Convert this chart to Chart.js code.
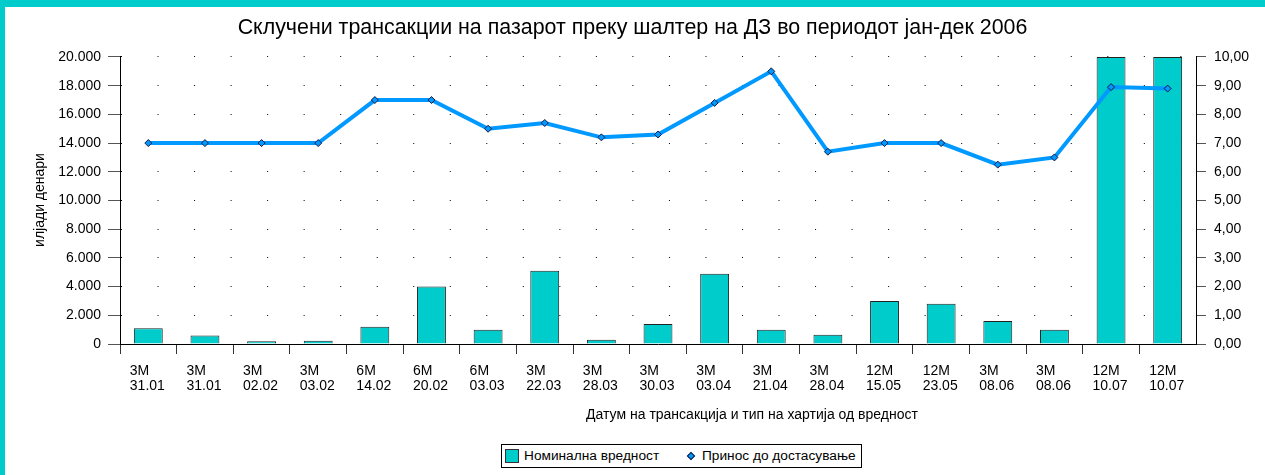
<!DOCTYPE html>
<html lang="mk">
<head>
    <meta charset="UTF-8">
    <title>Склучени трансакции на пазарот преку шалтер на ДЗ</title>
    <style>
        body { margin: 0; background: #fff; font-family: "Liberation Sans", Arial, sans-serif; }
        #frame { position: absolute; left: 0; top: 0; width: 1265px; height: 475px; box-sizing: border-box;
                 border-top: 7px solid #00cccc; border-left: 5px solid #00cccc; }
        #chart-container { position: absolute; left: 0; top: 0; width: 1265px; height: 475px; }
        #legend { position: absolute; left: 501px; top: 444px; width: 361px; height: 24px; box-sizing: border-box;
                  border: 1px solid #000; background: #fff; font-size: 13.7px; color: #000; }
        #legend .sq { position: absolute; left: 3px; top: 4px; width: 14px; height: 14px; box-sizing: border-box;
                      background: #00cccc; border: 1px solid #333; }
        #legend .dia { position: absolute; left: 186px; top: 8px; width: 6px; height: 6px; box-sizing: border-box;
                       background: #0099ff; border: 1px solid #1a1a40; transform: rotate(45deg); }
        #legend .txt { position: absolute; top: 0; line-height: 22px; white-space: nowrap; }
    </style>
</head>
<body>
    <div id="frame"></div>
    <div id="chart-container">
        <canvas id="resultChart"></canvas>
    </div>
    <div id="legend">
        <span class="sq"></span><span class="txt" style="left:22px">Номинална вредност</span>
        <span class="dia"></span><span class="txt" style="left:200px">Принос до достасување</span>
    </div>

    <script src="https://cdn.jsdelivr.net/npm/chart.js"></script>
    <script>
        // data
        const categories = [
            ['3M', '31.01'], ['3M', '31.01'], ['3M', '02.02'], ['3M', '03.02'], ['6M', '14.02'],
            ['6M', '20.02'], ['6M', '03.03'], ['3M', '22.03'], ['3M', '28.03'], ['3M', '30.03'],
            ['3M', '03.04'], ['3M', '21.04'], ['3M', '28.04'], ['12M', '15.05'], ['12M', '23.05'],
            ['3M', '08.06'], ['3M', '08.06'], ['12M', '10.07'], ['12M', '10.07']
        ];
        const nominalValues = [1100, 600, 200, 220, 1200, 4000, 1000, 5100, 300, 1400,
                               4900, 1000, 650, 3000, 2800, 1600, 1000, 20000, 20000];
        const yieldValues = [7.0, 7.0, 7.0, 7.0, 8.5, 8.5, 7.5, 7.7, 7.2, 7.3,
                             8.4, 9.5, 6.7, 7.0, 7.0, 6.25, 6.5, 8.95, 8.9];
        const leftTickLabels = ['0', '2.000', '4.000', '6.000', '8.000', '10.000',
                                '12.000', '14.000', '16.000', '18.000', '20.000'];
        const rightTickLabels = ['0,00', '1,00', '2,00', '3,00', '4,00', '5,00',
                                 '6,00', '7,00', '8,00', '9,00', '10,00'];

        const chartTitle = 'Склучени трансакции на пазарот преку шалтер на ДЗ во периодот јан-дек 2006';
        const xTitle = 'Датум на трансакција и тип на хартија од вредност';
        const yTitle = 'илјади денари';

        Chart.defaults.font.family = '"Liberation Sans", Arial, sans-serif';
        Chart.defaults.color = '#000';

        // axis titles sit off-centre in the original, so draw them by hand
        const axisTitles = {
            id: 'axisTitles',
            afterDraw(chart) {
                const ctx = chart.ctx;
                ctx.save();
                ctx.fillStyle = '#000';
                ctx.font = '14px "Liberation Sans", Arial, sans-serif';
                ctx.textAlign = 'center';
                ctx.textBaseline = 'middle';
                ctx.fillText(xTitle, 752, 415);
                ctx.translate(40, 200);
                ctx.rotate(-Math.PI / 2);
                ctx.fillText(yTitle, 0, 0);
                ctx.restore();
            }
        };

        const ctx = document.getElementById('resultChart').getContext('2d');
        new Chart(ctx, {
            data: {
                labels: categories,
                datasets: [{
                    type: 'line',
                    label: 'Принос до достасување',
                    data: yieldValues,
                    yAxisID: 'y1',
                    order: 0,
                    borderColor: '#0099ff',
                    borderWidth: 4,
                    tension: 0,
                    pointStyle: 'rectRot',
                    pointRadius: 3.5,
                    pointBackgroundColor: '#0099ff',
                    pointBorderColor: '#1a1a40',
                    pointBorderWidth: 1
                }, {
                    type: 'bar',
                    label: 'Номинална вредност',
                    data: nominalValues,
                    yAxisID: 'y',
                    order: 1,
                    backgroundColor: '#00cccc',
                    borderColor: '#222',
                    borderWidth: 1,
                    categoryPercentage: 1,
                    barPercentage: 0.51
                }]
            },
            options: {
                responsive: true,
                maintainAspectRatio: false,
                animation: false,
                layout: { padding: 0 },
                plugins: {
                    legend: { display: false },
                    tooltip: { enabled: false },
                    title: {
                        display: true,
                        text: chartTitle,
                        color: '#000',
                        font: { size: 21.4, weight: 'normal', lineHeight: 1.2 },
                        padding: { top: 15.2, bottom: 16.1 }
                    }
                },
                scales: {
                    x: {
                        type: 'category',
                        offset: true,
                        afterFit: s => { s.height = 131; },
                        grid: {
                            offset: true,
                            drawOnChartArea: false,
                            tickLength: 10,
                            tickColor: c => c.index === undefined ? 'rgba(0,0,0,0)' : '#333'
                        },
                        border: { color: '#000', width: 1 },
                        ticks: {
                            align: 'start',
                            labelOffset: -18.5,
                            padding: 10,
                            maxRotation: 0,
                            autoSkip: false,
                            font: { size: 14, lineHeight: 1.07 }
                        }
                    },
                    y: {
                        position: 'left',
                        min: 0,
                        max: 20000,
                        afterFit: s => { s.width = 120; },
                        grid: {
                            color: '#000',
                            lineWidth: 1,
                            tickLength: 12,
                            tickColor: '#555',
                            tickBorderDash: []
                        },
                        border: { color: '#000', width: 1, dash: [1, 35.53] },
                        ticks: {
                            stepSize: 2000,
                            padding: 7,
                            font: { size: 14 },
                            callback: (v, i) => leftTickLabels[i]
                        }
                    },
                    y1: {
                        position: 'right',
                        min: 0,
                        max: 10,
                        afterFit: s => { s.width = 69; },
                        grid: {
                            drawOnChartArea: false,
                            tickLength: 10,
                            tickColor: '#555'
                        },
                        border: { color: '#000', width: 1 },
                        ticks: {
                            stepSize: 1,
                            padding: 8,
                            font: { size: 14 },
                            callback: (v, i) => rightTickLabels[i]
                        }
                    }
                }
            },
            plugins: [axisTitles]
        });
    </script>
</body>
</html>
